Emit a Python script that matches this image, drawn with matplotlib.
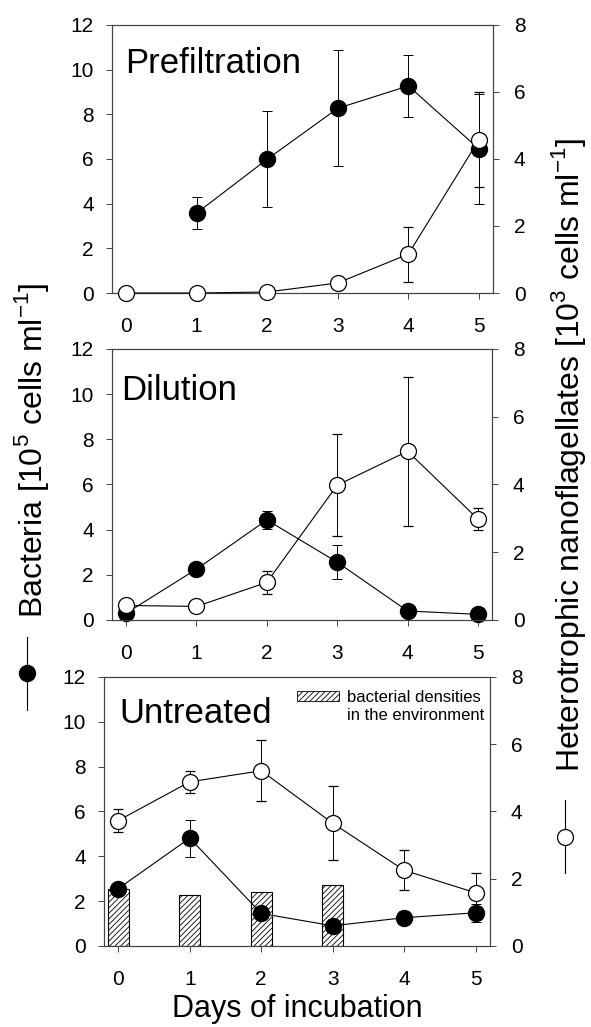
import numpy as np
import matplotlib
matplotlib.use("Agg")
import matplotlib.pyplot as plt
from matplotlib.patches import Patch
from matplotlib.lines import Line2D

plt.rcParams['font.family'] = ['Liberation Sans', 'DejaVu Sans']
plt.rcParams['hatch.linewidth'] = 0.6
plt.rcParams['mathtext.fontset'] = 'custom'
plt.rcParams['mathtext.rm'] = 'Liberation Sans'

days = [0, 1, 2, 3, 4, 5]
titles = ["Prefiltration", "Dilution", "Untreated"]

# bacteria, left axis [10^5 cells/ml]
pre_bac_days = [1, 2, 3, 4, 5]
pre_bac = [3.58, 5.99, 8.27, 9.27, 6.45]
pre_bac_err = [0.70, 2.14, 2.60, 1.38, 2.45]
dil_bac = [0.30, 2.25, 4.43, 2.56, 0.40, 0.25]
dil_bac_err = [0.05, 0.08, 0.41, 0.74, 0.05, 0.05]
unt_bac = [2.56, 4.81, 1.45, 0.90, 1.26, 1.48]
unt_bac_err = [0.10, 0.82, 0.10, 0.10, 0.30, 0.41]

# heterotrophic nanoflagellates, right axis [10^3 cells/ml]
pre_hnf = [0.0, 0.0, 0.03, 0.30, 1.16, 4.57]
pre_hnf_err = [0.0, 0.0, 0.0, 0.0, 0.82, 1.42]
dil_hnf = [0.43, 0.40, 1.11, 3.98, 4.98, 2.98]
dil_hnf_err = [0.0, 0.0, 0.35, 1.50, 2.20, 0.32]
unt_hnf = [3.73, 4.88, 5.21, 3.65, 2.25, 1.58]
unt_hnf_err = [0.34, 0.32, 0.90, 1.10, 0.59, 0.60]

# bacterial densities in the environment
env_days = [0, 1, 2, 3]
env_bac = [2.52, 2.26, 2.40, 2.74]

panels = [
    (pre_bac_days, pre_bac, pre_bac_err, pre_hnf, pre_hnf_err),
    (days, dil_bac, dil_bac_err, dil_hnf, dil_hnf_err),
    (days, unt_bac, unt_bac_err, unt_hnf, unt_hnf_err),
]
positions = [
    [0.1895, 0.7147, 0.6447, 0.2610],
    [0.1895, 0.3963, 0.6430, 0.2639],
    [0.1760, 0.0789, 0.6530, 0.2620],
]
title_pos = [(0.034, 0.82), (0.024, 0.81), (0.040, 0.83)]

spine_col = "#444444"
fig = plt.figure(figsize=(5.91, 10.27), dpi=100)


def unclip(cont):
    for art in cont.get_children():
        art.set_clip_on(False)


for i, (bd, bac, berr, hnf, herr) in enumerate(panels):
    ax = fig.add_axes(positions[i])
    if i == 2:
        ax.bar(env_days, env_bac, width=0.3, color="white", edgecolor="black",
               hatch="//////", linewidth=0.8, zorder=1)
    c = ax.errorbar(bd, bac, yerr=berr, fmt="-o", color="black", mfc="black",
                    mec="black", ms=11.5, lw=0.8, elinewidth=0.7, capsize=3.5,
                    capthick=0.7, zorder=3)
    unclip(c)
    ax.set_xlim(-0.2, 5.2)
    ax.set_ylim(0, 12)
    ax.set_yticks(range(0, 13, 2))
    ax.set_xticks(days)

    ax2 = ax.twinx()
    c2 = ax2.errorbar(days, hnf, yerr=herr, fmt="-o", color="black", mfc="white",
                      mec="black", mew=0.9, ms=11.5, lw=0.8, elinewidth=0.7,
                      capsize=3.5, capthick=0.7, zorder=3)
    unclip(c2)
    ax2.set_ylim(0, 8)
    ax2.set_yticks(range(0, 9, 2))

    for a in (ax, ax2):
        for s in a.spines.values():
            s.set_color(spine_col)
            s.set_linewidth(0.8)
        a.tick_params(length=4, width=0.7, color=spine_col, labelsize=15)
    ax.tick_params(axis="y", pad=9)
    ax.tick_params(axis="x", pad=13)
    ax2.tick_params(axis="y", pad=11)

    ax.text(title_pos[i][0], title_pos[i][1], titles[i], transform=ax.transAxes,
            fontsize=25, va="baseline", ha="left", zorder=5)

    if i == 2:
        handles = [Patch(facecolor="white", edgecolor="black", hatch="//////", linewidth=0.6),
                   Line2D([], [], color="none")]
        ax.legend(handles, ["bacterial densities", "in the environment"],
                  loc="upper right", bbox_to_anchor=(0.985, 0.95), frameon=False,
                  fontsize=12, handlelength=2.5, handleheight=0.55,
                  handletextpad=0.5, labelspacing=0.15, borderpad=0,
                  borderaxespad=0)
        ax.set_xlabel("Days of incubation", fontsize=22, labelpad=4)

fig.text(0.053, 0.562, "Bacteria [10$^5$ cells ml$^{-1}$]", rotation=90,
         ha="center", va="center", fontsize=23)
fig.text(0.962, 0.557, "Heterotrophic nanoflagellates [10$^3$ cells ml$^{-1}$]",
         rotation=90, ha="center", va="center", fontsize=23)

# symbol keys beside the axis titles
fig.add_artist(Line2D([0.0457, 0.0457], [1 - 637 / 1027, 1 - 710 / 1027],
                      transform=fig.transFigure, color="black", lw=0.8))
fig.add_artist(Line2D([0.0457], [1 - 673 / 1027], transform=fig.transFigure,
                      marker="o", ms=11.5, color="black", ls="none"))
fig.add_artist(Line2D([0.956, 0.956], [1 - 800 / 1027, 1 - 873 / 1027],
                      transform=fig.transFigure, color="black", lw=0.8))
fig.add_artist(Line2D([0.956], [1 - 837 / 1027], transform=fig.transFigure,
                      marker="o", ms=11.5, mfc="white", mec="black", mew=0.9,
                      ls="none"))

fig.savefig("out.png", dpi=100)
